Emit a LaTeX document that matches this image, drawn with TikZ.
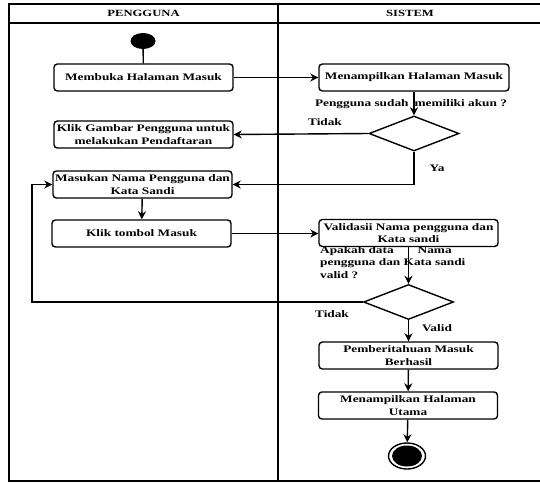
\documentclass[tikz,border=0pt]{standalone}
\usepackage{fontspec}
\setmainfont{Liberation Serif}[FakeStretch=1.33]
\usetikzlibrary{shapes.geometric, arrows.meta}

\begin{document}
\begin{tikzpicture}[
    x=1pt, y=-1pt,
    >={Stealth[length=8pt, width=8pt, inset=2.5pt]},
    every node/.style={font=\bfseries\fontsize{10}{12.5}\selectfont},
    box/.style={
        draw,
        line width=1.4pt,
        rounded corners=1.2mm,
        minimum width=179pt,
        minimum height=27pt,
        inner sep=0pt,
        align=center
    },
    cek/.style={
        draw,
        diamond,
        line width=1.4pt,
        inner sep=0pt,
        minimum width=90pt,
        minimum height=35pt
    },
    lane/.style={line width=1.6pt},
    line/.style={line width=1.4pt},
    arr/.style={->, line width=1.4pt}
]
    \useasboundingbox (0,0) rectangle (540,482);

    % swimlanes
    \draw[lane] (540,4) -- (9,4) -- (9,481) -- (540,481);
    \draw[lane] (9,23) -- (540,23);
    \draw[lane] (278,4) -- (278,481);
    \node[font=\bfseries\fontsize{9.5}{11}\selectfont] (hpengguna) at (143.5,13.5) {PENGGUNA};
    \node[font=\bfseries\fontsize{9.5}{11}\selectfont] (hsistem) at (410,13.5) {SISTEM};

    % pengguna
    \node[fill=black, ellipse, minimum width=25pt, minimum height=16pt, inner sep=0pt] (start) at (143,41) {};
    \node[box] (membuka) at (143.5,77.5) {Membuka Halaman Masuk};
    \node[box] (gambar) at (143.5,134.5) {Klik Gambar Pengguna untuk\\melakukan Pendaftaran};
    \node[box] (masukan) at (142.5,184.5) {Masukan Nama Pengguna dan\\Kata Sandi};
    \node[box] (tombol) at (141.5,233.5) {Klik tombol Masuk};

    % sistem
    \node[box, minimum width=190pt] (tampilmasuk) at (414,77.5) {Menampilkan Halaman Masuk};
    \node[cek] (cekakun) at (414,133.5) {};
    \node[box] (validasi) at (408.5,233) {Validasii Nama pengguna dan\\Kata sandi};
    \node[cek] (cekvalid) at (408.5,302) {};
    \node[box] (berhasil) at (408.5,355.5) {Pemberitahuan Masuk\\Berhasil};
    \node[box] (utama) at (408,405.5) {Menampilkan Halaman\\Utama};
    \node[draw, ellipse, line width=1.4pt, minimum width=37pt, minimum height=26pt, inner sep=0pt] (akhir) at (407,456) {};
    \node[fill=black, ellipse, minimum width=30pt, minimum height=21pt, inner sep=0pt] (akhirdalam) at (akhir) {};

    \coordinate (balik) at (32,302);

    % labels
    \node (tanyaakun) at (411,104) {Pengguna sudah\hspace{6pt}memiliki akun ?};
    \node (tidakakun) at (325,122) {Tidak};
    \node (yaakun) at (437,168) {Ya};
    \node[anchor=north west, align=left, inner sep=0pt] (tanyavalid) at (320,246)
        {Apakah data\hspace{24pt}Nama\\pengguna dan Kata sandi\\valid ?};
    \node (tidakvalid) at (332,314) {Tidak};
    \node (validlbl) at (437,328) {Valid};

    \draw[line] (start) -- (membuka);
    \draw[arr] (membuka) -- (tampilmasuk);
    \draw[arr] (tampilmasuk) -- (cekakun);
    \draw[arr] (cekakun.west) -- (gambar.east);
    \draw[arr] (cekakun.south) |- (masukan.east);
    \draw[arr] (masukan) -- (tombol);
    \draw[arr] (tombol.east) -- (validasi.west |- tombol.east);
    \draw[arr] (validasi) -- (cekvalid);
    \draw[arr] (cekvalid.west) -- (balik) |- (masukan.west);
    \draw[arr] (cekvalid) -- (berhasil);
    \draw[arr] (berhasil) -- (utama);
    \draw[arr] (utama) -- (akhir);
\end{tikzpicture}
\end{document}
